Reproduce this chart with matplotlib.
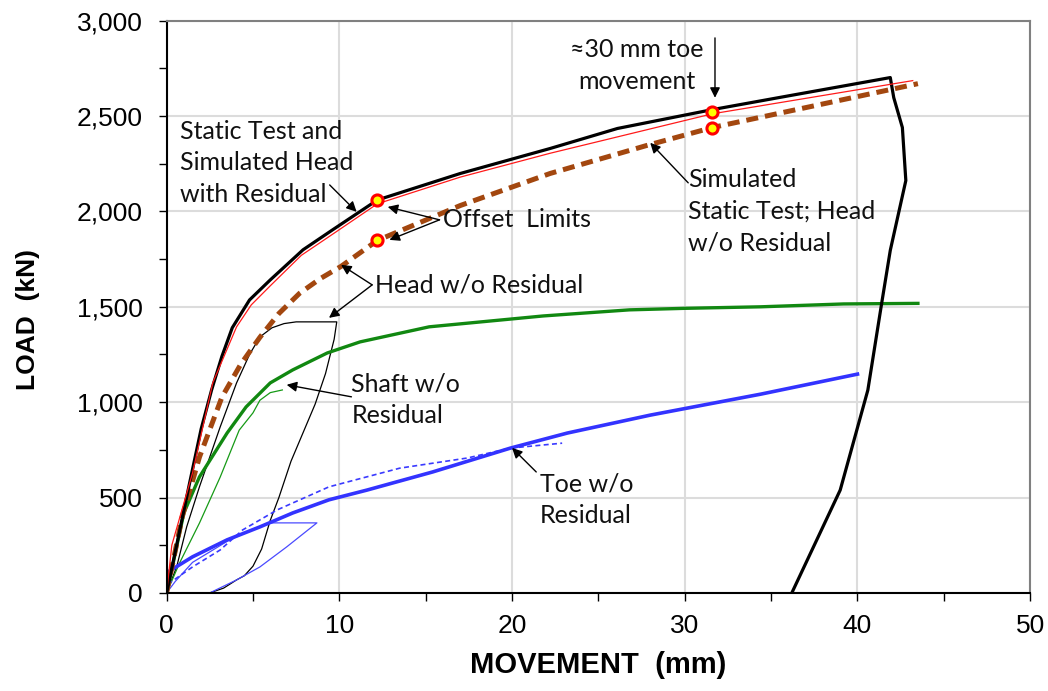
import matplotlib.pyplot as plt
from matplotlib.ticker import MultipleLocator, FuncFormatter

# load-movement curves, movement in mm, load in kN
static_x = [0, 0.58, 1.33, 2.0, 2.6, 3.2, 3.8, 4.8, 6.0, 7.9, 9.6, 12.2, 17.0, 22.2, 26.1, 31.6,
            36.0, 41.9, 42.1, 42.6, 42.8, 41.9, 41.4, 40.6, 39.0, 36.2]
static_y = [0, 250, 576, 860, 1063, 1240, 1390, 1536, 1641, 1799, 1903, 2060, 2199, 2330, 2435, 2534,
            2606, 2702, 2597, 2440, 2162, 1796, 1518, 1063, 539, 0]

sim_res_x = [0, 0.3, 1.5, 2.67, 4.05, 4.9, 6.0, 7.8, 9.6, 12.2, 17.0, 22.2, 31.6, 43.2]
sim_res_y = [0, 250, 629, 1101, 1395, 1510, 1610, 1770, 1880, 2040, 2180, 2305, 2512, 2686]

sim_nores_x = [0, 0.9, 1.9, 3.2, 4.3, 5.4, 6.5, 7.7, 8.9, 10.1, 12.2, 17.0, 22.2, 27.8, 31.6, 43.5]
sim_nores_y = [0, 398, 712, 1026, 1200, 1340, 1465, 1571, 1648, 1712, 1848, 2031, 2199, 2346, 2440, 2670]

head_x = [0, 0.58, 1.16, 1.9, 3.1, 4.05, 4.8, 5.4, 6.1, 6.8, 7.5, 9.85, 9.7, 9.2, 8.6, 7.9, 7.2,
          6.5, 6.0, 5.5, 5.0, 4.5, 4.05, 3.3, 2.5]
head_y = [0, 136, 346, 556, 870, 1101, 1250, 1342, 1390, 1412, 1421, 1421, 1330, 1150, 990, 840, 690,
          500, 380, 230, 140, 90, 68, 25, 0]

shaft_x = [0, 0.17, 1.0, 1.9, 3.5, 4.6, 6.0, 7.3, 9.3, 11.2, 15.2, 21.8, 26.8, 30.0, 34.4, 39.2, 43.5]
shaft_y = [0, 68, 420, 608, 838, 975, 1101, 1169, 1258, 1316, 1395, 1452, 1484, 1492, 1500, 1515, 1518]

shaft_res_x = [0, 0.75, 1.9, 3.1, 4.2, 5.0, 5.4, 6.0, 6.7]
shaft_res_y = [0, 157, 366, 607, 853, 944, 1010, 1050, 1064]

toe_x = [0, 0.17, 1.5, 3.5, 5.4, 7.3, 9.4, 11.6, 15.4, 19.9, 23.2, 28.0, 34.4, 40.0]
toe_y = [0, 115, 189, 278, 346, 419, 488, 539, 634, 759, 838, 932, 1042, 1147]

toe_dash_x = [0, 0.17, 1.5, 3.1, 4.4, 6.4, 9.4, 13.5, 17.4, 19.9, 22.9]
toe_dash_y = [0, 52, 136, 225, 330, 435, 556, 654, 707, 759, 785]

toe_res_x = [0, 0.5, 1.5, 3.5, 5.0, 6.0, 8.7, 6.95, 5.4, 4.05, 2.5]
toe_res_y = [0, 60, 160, 270, 335, 367, 367, 241, 136, 68, 0]

# offset limit points
offset_x = [12.2, 12.2, 31.6, 31.6]
offset_y = [2058, 1848, 2524, 2440]

plt.rcParams['font.family'] = ['Liberation Sans', 'DejaVu Sans']

fig = plt.figure(figsize=(10.48, 6.91), dpi=100)
ax = fig.add_axes([0.159, 0.142, 0.824, 0.828])

ax.plot(head_x, head_y, color='black', lw=0.9)
ax.plot(shaft_res_x, shaft_res_y, color='#169a16', lw=0.9)
ax.plot(toe_res_x, toe_res_y, color='#4a4aff', lw=0.9)
ax.plot(toe_dash_x, toe_dash_y, color='#3a3aff', lw=1.2, dashes=(3, 2))
ax.plot(toe_x, toe_y, color='#3333ff', lw=2.6)
ax.plot(shaft_x, shaft_y, color='#118811', lw=2.4)
ax.plot(sim_nores_x, sim_nores_y, color='#a3470f', lw=3.6, dashes=(2.4, 1.4))
ax.plot(static_x, static_y, color='black', lw=2.3)
ax.plot(sim_res_x, sim_res_y, color='#ff1a1a', lw=0.9)
ax.plot(offset_x, offset_y, ls='none', marker='o', ms=8, mfc='#ffff00', mec='#ff0000', mew=2.2)

ax.set_xlim(0, 50)
ax.set_ylim(0, 3000)
ax.xaxis.set_major_locator(MultipleLocator(10))
ax.xaxis.set_minor_locator(MultipleLocator(5))
ax.yaxis.set_major_locator(MultipleLocator(500))
ax.yaxis.set_minor_locator(MultipleLocator(250))
ax.yaxis.set_major_formatter(FuncFormatter(lambda v, p: f'{int(v):,}'))
ax.tick_params(which='both', direction='out', labelsize=19, width=1, length=6)
ax.tick_params(axis='y', which='both', pad=11)
ax.tick_params(axis='x', which='both', pad=9)
ax.grid(True, which='major', color='#dcdcdc', lw=1.5)
ax.set_axisbelow(True)
for side in ['left', 'bottom']:
    ax.spines[side].set_linewidth(1.5)
for side in ['top', 'right']:
    ax.spines[side].set_color('#808080')
    ax.spines[side].set_linewidth(1.5)

ax.set_xlabel('MOVEMENT  (mm)', fontsize=21, fontweight='bold', va='center')
ax.set_ylabel('LOAD  (kN)', fontsize=19, fontweight='bold', va='center')
ax.xaxis.set_label_coords(0.5, -0.126)
ax.yaxis.set_label_coords(-0.160, 0.477)

note = dict(fontsize=18, family=['Lato', 'DejaVu Sans'], color='#111111', va='center', linespacing=1.45)
arrow = dict(arrowstyle='-|>', color='black', lw=1, shrinkA=0, shrinkB=0, mutation_scale=15)

ax.text(0.75, 2255, 'Static Test and\nSimulated Head\nwith Residual', ha='left', **note)
ax.annotate('', xy=(11.0, 1998), xytext=(9.44, 2139), arrowprops=arrow)

ax.text(16.0, 1956, 'Offset  Limits', ha='left', **note)
ax.annotate('', xy=(12.8, 2024), xytext=(15.8, 1956), arrowprops=arrow)
ax.annotate('', xy=(12.9, 1851), xytext=(15.8, 1956), arrowprops=arrow)

ax.text(12.05, 1615, 'Head w/o Residual', ha='left', **note)
ax.annotate('', xy=(10.1, 1720), xytext=(11.9, 1615), arrowprops=arrow)
ax.annotate('', xy=(9.4, 1442), xytext=(11.9, 1615), arrowprops=arrow)

ax.text(10.7, 1012, 'Shaft w/o\nResidual', ha='left', **note)
ax.annotate('', xy=(6.95, 1091), xytext=(10.7, 1028), arrowprops=arrow)

ax.text(21.6, 488, 'Toe w/o\nResidual', ha='left', **note)
ax.annotate('', xy=(20.0, 760), xytext=(21.4, 634), arrowprops=arrow)

ax.text(27.2, 2764, '\u224830 mm toe\nmovement', ha='center', **note)
ax.annotate('', xy=(31.75, 2596), xytext=(31.75, 2910), arrowprops=arrow)

ax.text(30.2, 2000, 'Simulated\nStatic Test; Head\nw/o Residual', ha='left', **note)
ax.annotate('', xy=(28.0, 2360), xytext=(30.2, 2150), arrowprops=arrow)

fig.savefig('out.png', dpi=100)
